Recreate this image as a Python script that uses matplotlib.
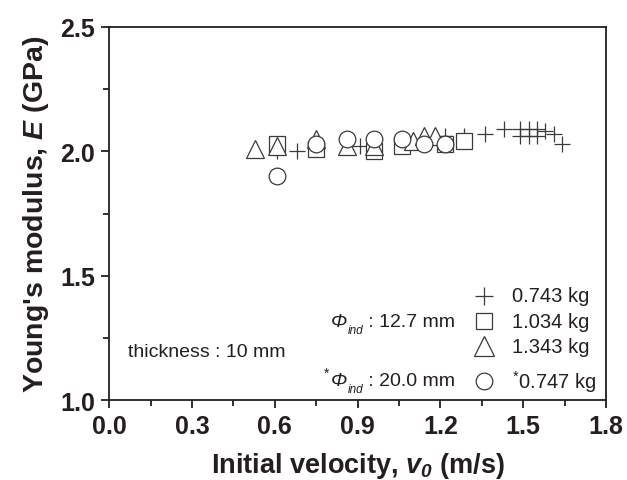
import matplotlib
matplotlib.use("Agg")
import matplotlib.pyplot as plt
from matplotlib.ticker import MultipleLocator

plt.rcParams['font.family'] = ['Liberation Sans', 'DejaVu Sans']
plt.rcParams['mathtext.fontset'] = 'custom'
plt.rcParams['mathtext.rm'] = 'Liberation Sans'
plt.rcParams['mathtext.it'] = 'Liberation Sans:italic'
plt.rcParams['mathtext.bf'] = 'Liberation Sans:bold'
plt.rcParams['mathtext.bfit'] = 'Liberation Sans:bold:italic'

# ---- data ----
v_743 = [0.61, 0.68, 0.91, 0.96, 1.215, 1.285, 1.36, 1.43, 1.49, 1.49, 1.52, 1.52, 1.55, 1.55, 1.58, 1.61, 1.64]
E_743 = [2.00, 2.00, 2.02, 2.00, 2.06, 2.06, 2.07, 2.09, 2.09, 2.06, 2.09, 2.06, 2.09, 2.06, 2.08, 2.07, 2.03]

v_1034 = [0.61, 0.75, 0.96, 1.06, 1.215, 1.285]
E_1034 = [2.03, 2.01, 2.00, 2.02, 2.03, 2.04]

v_1343 = [0.53, 0.61, 0.75, 0.86, 0.96, 1.10, 1.14, 1.18]
E_1343 = [2.01, 2.02, 2.05, 2.02, 2.02, 2.04, 2.06, 2.06]

v_747 = [0.61, 0.75, 0.86, 0.96, 1.06, 1.14, 1.215]
E_747 = [1.90, 2.03, 2.05, 2.05, 2.05, 2.03, 2.03]

xticks = [0.0, 0.3, 0.6, 0.9, 1.2, 1.5, 1.8]
yticks = [1.0, 1.5, 2.0, 2.5]

legend_labels = ['0.743 kg', '1.034 kg', '1.343 kg', r'$^{*}$0.747 kg']

INK = '#231f20'
EDGE = '#3a3a3a'

fig = plt.figure(figsize=(6.27, 4.81), dpi=100)
ax = fig.add_axes([0.174, 0.1663, 0.7925, 0.7755])

common = dict(linestyle='none', markerfacecolor='white', markeredgecolor=EDGE,
              markeredgewidth=0.9, color=EDGE)
ax.plot(v_743, E_743, marker='+', markersize=11, zorder=3, **common)
ax.plot(v_1034, E_1034, marker='s', markersize=11, zorder=4, **common)
ax.plot(v_1343, E_1343, marker='^', markersize=13, zorder=5, **common)
ax.plot(v_747, E_747, marker='o', markersize=12, zorder=6, **common)

ax.set_xlim(0, 1.8)
ax.set_ylim(1.0, 2.5)
ax.set_xticks(xticks)
ax.set_yticks(yticks)
ax.set_xticklabels([f'{t:.1f}' for t in xticks])
ax.set_yticklabels([f'{t:.1f}' for t in yticks])
ax.xaxis.set_minor_locator(MultipleLocator(0.15))
ax.yaxis.set_minor_locator(MultipleLocator(0.25))

for s in ax.spines.values():
    s.set_linewidth(1.3)
    s.set_color(INK)
ax.tick_params(which='both', direction='out', top=False, right=False,
               color=INK, width=1.3, labelcolor=INK)
ax.tick_params(which='major', length=6, labelsize=18, pad=4)
ax.tick_params(which='minor', length=4)
for lab in ax.get_xticklabels() + ax.get_yticklabels():
    lab.set_fontweight('bold')

ax.set_xlabel(r'Initial velocity, $\mathbfit{v}_{\mathbfit{0}}$ (m/s)',
              fontsize=19.5, fontweight='bold', color=INK, labelpad=9)
ax.set_ylabel(r"Young's modulus, $\mathbfit{E}$ (GPa)",
              fontsize=20.5, fontweight='bold', color=INK, labelpad=7)

# ---- legend drawn manually ----
rows_y = [0.279, 0.211, 0.144, 0.051]
mx = 0.755
markers = [('+', 13), ('s', 12), ('^', 15), ('o', 12)]
for (m, ms), yy, lab in zip(markers, rows_y, legend_labels):
    ax.plot([mx], [yy], marker=m, markersize=ms, transform=ax.transAxes,
            clip_on=False, **common)
    ax.text(0.81, yy, lab, transform=ax.transAxes, fontsize=14.5,
            va='center', ha='left', color=INK)


def phi_label(yy, rest, star=False):
    t1 = ax.text(0.697, yy, rest, transform=ax.transAxes, fontsize=14,
                 va='center', ha='right', color=INK)
    ts = ax.annotate('ind', xy=(0, 0.5), xycoords=t1, xytext=(0, -6),
                     textcoords='offset points', ha='right', va='center',
                     fontsize=8.5, style='italic', color=INK)
    tp = ax.annotate('Φ', xy=(0, 0.5), xycoords=(ts, t1), xytext=(-0.5, 0),
                     textcoords='offset points', ha='right', va='center',
                     fontsize=14, style='italic', color=INK)
    if star:
        ax.annotate('*', xy=(0, 0.5), xycoords=(tp, t1), xytext=(-1, 6),
                    textcoords='offset points', ha='right', va='center',
                    fontsize=10, color=INK)


phi_label(0.211, ' : 12.7 mm')
phi_label(0.051, ' : 20.0 mm', star=True)
ax.text(0.038, 0.131, 'thickness : 10 mm', transform=ax.transAxes,
        fontsize=14, va='center', ha='left', color=INK)

fig.savefig('out.png', dpi=100)
